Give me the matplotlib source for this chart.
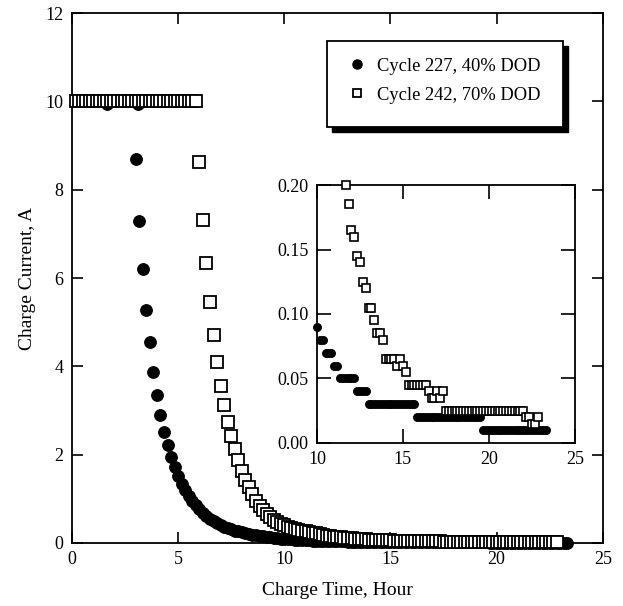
import numpy as np
import matplotlib
matplotlib.use("Agg")
import matplotlib.pyplot as plt
from matplotlib.patches import Rectangle

plt.rcParams['font.family'] = ['Liberation Serif', 'DejaVu Serif']
plt.rcParams['font.size'] = 13

# Cycle 227, 40% DOD  (time in minutes, current in A)
t227_min = [10, 20, 30, 40, 50, 60, 70, 80, 90,
            100, 110, 120, 130, 140, 150, 160, 170, 186, 180, 190,
            200, 210, 220, 230, 240, 250, 260, 270, 280, 290,
            300, 310, 320, 330, 340, 350, 360, 370, 380, 390,
            400, 410, 420, 430, 440, 450, 460, 470, 480, 490,
            500, 510, 520, 530, 540, 550, 560, 570, 580, 590,
            600, 610, 620, 630, 640, 650, 660, 670, 680, 690,
            700, 710, 720, 730, 740, 750, 760, 770, 780, 790,
            800, 810, 820, 830, 840, 850, 860, 870, 880, 890,
            900, 910, 920, 930, 940, 950, 960, 970, 980, 990,
            1000, 1010, 1020, 1030, 1040, 1050, 1060, 1070, 1080, 1090,
            1100, 1110, 1120, 1130, 1140, 1150, 1160, 1170, 1180, 1190,
            1200, 1210, 1220, 1230, 1240, 1250, 1260, 1270, 1280, 1290,
            1300, 1310, 1320, 1330, 1340, 1350, 1360, 1370, 1380, 1390,
            1400]
i227 = [10.0, 10.0, 10.0, 10.0, 10.0, 10.0, 10.0, 10.0, 10.0,
        9.95, 10.0, 10.0, 10.0, 10.0, 10.0, 10.0, 10.0, 9.95, 8.70, 7.30,
        6.20, 5.27, 4.55, 3.88, 3.36, 2.90, 2.52, 2.22, 1.95, 1.72,
        1.52, 1.34, 1.19, 1.06, 0.95, 0.85, 0.76, 0.68, 0.61, 0.55,
        0.50, 0.45, 0.41, 0.37, 0.34, 0.31, 0.28, 0.26, 0.24, 0.22,
        0.20, 0.19, 0.17, 0.16, 0.15, 0.14, 0.13, 0.12, 0.11, 0.10,
        0.09, 0.08, 0.08, 0.07, 0.07, 0.07, 0.06, 0.06, 0.05, 0.05,
        0.05, 0.05, 0.05, 0.05, 0.04, 0.04, 0.04, 0.04, 0.03, 0.03,
        0.03, 0.03, 0.03, 0.03, 0.03, 0.03, 0.03, 0.03, 0.03, 0.03,
        0.03, 0.03, 0.03, 0.03, 0.03, 0.02, 0.02, 0.02, 0.02, 0.02,
        0.02, 0.02, 0.02, 0.02, 0.02, 0.02, 0.02, 0.02, 0.02, 0.02,
        0.02, 0.02, 0.02, 0.02, 0.02, 0.02, 0.02, 0.02, 0.01, 0.01,
        0.01, 0.01, 0.01, 0.01, 0.01, 0.01, 0.01, 0.01, 0.01, 0.01,
        0.01, 0.01, 0.01, 0.01, 0.01, 0.01, 0.01, 0.01, 0.01, 0.01,
        0.01]

# Cycle 242, 70% DOD
t242_min = [10, 20, 30, 40, 50, 60, 70, 80, 90,
            100, 110, 120, 130, 140, 150, 160, 170, 180, 190,
            200, 210, 220, 230, 240, 250, 260, 270, 280, 290,
            300, 310, 320, 330, 340, 350, 360, 370, 380, 390,
            400, 410, 420, 430, 440, 450, 460, 470, 480, 490,
            500, 510, 520, 530, 540, 550, 560, 570, 580, 590,
            600, 610, 620, 630, 640, 650, 660, 670, 680, 690,
            700, 710, 720, 730, 740, 750, 760, 770, 780, 790,
            800, 810, 820, 830, 840, 850, 860, 870, 880, 890,
            900, 910, 920, 930, 940, 950, 960, 970, 980, 990,
            1000, 1010, 1020, 1030, 1040, 1050, 1060, 1070, 1080, 1090,
            1100, 1110, 1120, 1130, 1140, 1150, 1160, 1170, 1180, 1190,
            1200, 1210, 1220, 1230, 1240, 1250, 1260, 1270, 1280, 1290,
            1300, 1310, 1320, 1330, 1340, 1350, 1360, 1370]
i242 = [10.0, 10.0, 10.0, 10.0, 10.0, 10.0, 10.0, 10.0, 10.0,
        10.0, 10.0, 10.0, 10.0, 10.0, 10.0, 10.0, 10.0, 10.0, 10.0,
        10.0, 10.0, 10.0, 10.0, 10.0, 10.0, 10.0, 10.0, 10.0, 10.0,
        10.0, 10.0, 10.0, 10.0, 10.0, 10.0, 8.62, 7.31, 6.34, 5.45,
        4.71, 4.10, 3.55, 3.12, 2.74, 2.42, 2.13, 1.87, 1.64, 1.43,
        1.26, 1.10, 0.96, 0.84, 0.74, 0.65, 0.58, 0.52, 0.47, 0.43,
        0.40, 0.37, 0.34, 0.32, 0.30, 0.28, 0.26, 0.245, 0.23, 0.215,
        0.200, 0.185, 0.165, 0.160, 0.145, 0.140, 0.125, 0.120, 0.105, 0.105,
        0.095, 0.085, 0.085, 0.080, 0.065, 0.065, 0.065, 0.065, 0.060, 0.065,
        0.060, 0.055, 0.045, 0.045, 0.045, 0.045, 0.045, 0.045, 0.045, 0.040,
        0.035, 0.035, 0.040, 0.035, 0.040, 0.025, 0.025, 0.025, 0.025, 0.025,
        0.025, 0.025, 0.025, 0.025, 0.025, 0.025, 0.025, 0.025, 0.025, 0.025,
        0.025, 0.025, 0.025, 0.025, 0.025, 0.025, 0.025, 0.025, 0.025, 0.025,
        0.025, 0.025, 0.025, 0.020, 0.020, 0.015, 0.015, 0.020]

x_ticks = [0, 5, 10, 15, 20, 25]
y_ticks = [0, 2, 4, 6, 8, 10, 12]
inset_x_ticks = [10, 15, 20, 25]
inset_y_ticks = [0.0, 0.05, 0.10, 0.15, 0.20]
labels = ['Cycle 227, 40% DOD', 'Cycle 242, 70% DOD']

t227 = np.array(t227_min) / 60.0
t242 = np.array(t242_min) / 60.0
i227 = np.array(i227)
i242 = np.array(i242)

fig = plt.figure(figsize=(6.23, 6.06), dpi=100)
ax = fig.add_axes([0.1156, 0.104, 0.852, 0.8745])

ax.plot(t227, i227, 'o', ms=8.4, mfc='black', mec='black', mew=0.8,
        clip_on=False, label=labels[0], zorder=3)
ax.plot(t242, i242, 's', ms=8.0, mfc='white', mec='black', mew=1.3,
        clip_on=False, label=labels[1], zorder=4)

ax.set_xlim(0, 25)
ax.set_ylim(0, 12)
ax.set_xticks(x_ticks)
ax.set_yticks(y_ticks)
ax.tick_params(direction='in', length=8, width=1.2, top=True, right=True,
               labelsize=13, pad=6)
for s in ax.spines.values():
    s.set_linewidth(1.3)
ax.set_xlabel('Charge Time, Hour', fontsize=14, labelpad=10)
ax.set_ylabel('Charge Current, A', fontsize=14, labelpad=7)

# legend box with solid shadow
bx, by, bw, bh = 0.48, 0.785, 0.445, 0.162
sh = Rectangle((bx + 0.009, by - 0.009), bw, bh, transform=ax.transAxes,
               facecolor='black', edgecolor='black', zorder=5)
box = Rectangle((bx, by), bw, bh, transform=ax.transAxes,
                facecolor='white', edgecolor='black', lw=1.3, zorder=6)
ax.add_patch(sh)
ax.add_patch(box)
leg = ax.legend(loc='upper left', bbox_to_anchor=(0.519, 0.916), frameon=False,
                handlelength=1.0, handletextpad=0.6, labelspacing=0.65,
                borderpad=0, borderaxespad=0, markerscale=0.8, fontsize=13.3)
leg.set_zorder(7)

# inset
axi = fig.add_axes([0.5088, 0.269, 0.414, 0.4257])
m227 = (t227 >= 10) & (i227 <= 0.2)
m242 = (t242 >= 10) & (i242 <= 0.2)
axi.plot(t227[m227], i227[m227], 'o', ms=5.8, mfc='black', mec='black', mew=0.6,
         clip_on=False, zorder=3)
axi.plot(t242[m242], i242[m242], 's', ms=5.6, mfc='white', mec='black', mew=1.2,
         clip_on=False, zorder=4)
axi.set_xlim(10, 25)
axi.set_ylim(0, 0.2)
axi.set_xticks(inset_x_ticks)
axi.set_yticks(inset_y_ticks)
axi.set_yticklabels(['%.2f' % v for v in inset_y_ticks])
axi.tick_params(direction='in', length=10, width=1.2, top=True, right=True,
                labelsize=13, pad=6)
for s in axi.spines.values():
    s.set_linewidth(1.3)

fig.savefig('out.png', dpi=100)
